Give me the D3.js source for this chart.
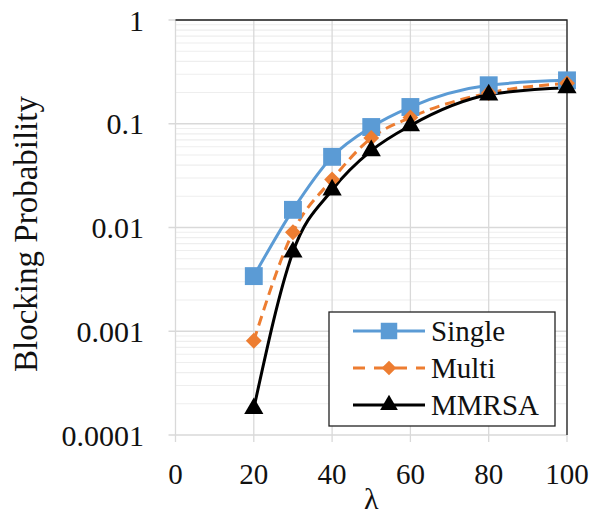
<!DOCTYPE html>
<html>
<head>
<meta charset="utf-8">
<script src="https://cdn.jsdelivr.net/npm/d3@7"></script>
<style>
  body { margin: 0; background: #fff; }
  text { font-family: "Liberation Serif", "Times New Roman", serif; fill: #111; }
</style>
</head>
<body>
<div id="chart"></div>
<script>
// chart data
var lambdas = [20, 30, 40, 50, 60, 80, 100];
var single = [0.0034, 0.0148, 0.048, 0.093, 0.145, 0.235, 0.262];
var multi = [0.00081, 0.0090, 0.029, 0.073, 0.115, 0.198, 0.245];
var mmrsa = [0.00018, 0.0058, 0.023, 0.055, 0.096, 0.19, 0.222];
var xTicks = [0, 20, 40, 60, 80, 100];
var yTicks = [0.0001, 0.001, 0.01, 0.1, 1];
var yTickLabels = ["0.0001", "0.001", "0.01", "0.1", "1"];
var seriesNames = ["Single", "Multi", "MMRSA"];

var W = 592, H = 517;
var pLeft = 175.5, pRight = 567, pTop = 20, pBottom = 435;

var svg = d3.select('#chart').append('svg')
  .attr('width', W).attr('height', H);

var x = d3.scaleLinear().domain([0, 100]).range([pLeft, pRight]);
var y = d3.scaleLog().domain([0.0001, 1]).range([pBottom, pTop]);

// minor horizontal grid
var minor = [];
for (var e = -4; e < 0; e++) {
  for (var m = 2; m <= 9; m++) minor.push(m * Math.pow(10, e));
}
svg.selectAll('.minor').data(minor).enter().append('line')
  .attr('x1', pLeft).attr('x2', pRight)
  .attr('y1', d => y(d)).attr('y2', d => y(d))
  .attr('stroke', '#eeeeee').attr('stroke-width', 1.2);

// major horizontal grid
svg.selectAll('.major').data(yTicks).enter().append('line')
  .attr('x1', pLeft - 7).attr('x2', pRight)
  .attr('y1', d => y(d)).attr('y2', d => y(d))
  .attr('stroke', '#d9d9d9').attr('stroke-width', 1.3);

// vertical grid
svg.selectAll('.vgrid').data(xTicks).enter().append('line')
  .attr('x1', d => x(d)).attr('x2', d => x(d))
  .attr('y1', pTop).attr('y2', pBottom + 7)
  .attr('stroke', '#d9d9d9').attr('stroke-width', 1.3);

// frame: top and right dark
svg.append('path')
  .attr('d', 'M' + pLeft + ',' + pTop + 'H' + pRight + 'V' + pBottom)
  .attr('fill', 'none').attr('stroke', '#222').attr('stroke-width', 1.3);

// tick labels
svg.selectAll('.ylab').data(yTicks).enter().append('text')
  .attr('x', 144).attr('y', d => y(d))
  .attr('dy', '0.35em')
  .attr('text-anchor', 'end')
  .attr('font-size', 30)
  .text((d, i) => yTickLabels[i]);

svg.selectAll('.xlab').data(xTicks).enter().append('text')
  .attr('x', d => x(d)).attr('y', 484)
  .attr('text-anchor', 'middle')
  .attr('font-size', 29)
  .text(d => d);

svg.append('text')
  .attr('x', x(50)).attr('y', 509)
  .attr('text-anchor', 'middle')
  .attr('font-size', 30)
  .text('λ');

svg.append('text')
  .attr('transform', 'translate(37,234) rotate(-90)')
  .attr('text-anchor', 'middle')
  .attr('font-size', 33)
  .text('Blocking Probability');

var series = [
  { name: seriesNames[0], values: single, color: '#5b9bd5', dash: null, sym: d3.symbolSquare, size: 320 },
  { name: seriesNames[1], values: multi, color: '#ed7d31', dash: '10,6', sym: d3.symbolDiamond2 || d3.symbolDiamond, size: 160 },
  { name: seriesNames[2], values: mmrsa, color: '#000000', dash: null, sym: d3.symbolTriangle, size: 160 }
];

var line = d3.line()
  .x((d, i) => x(lambdas[i]))
  .y(d => y(d))
  .curve(d3.curveMonotoneX);

series.forEach(function(s) {
  svg.append('path')
    .datum(s.values)
    .attr('d', line)
    .attr('fill', 'none')
    .attr('stroke', s.color)
    .attr('stroke-width', 3)
    .attr('stroke-dasharray', s.dash);
});

series.forEach(function(s) {
  svg.selectAll(null).data(s.values).enter().append('path')
    .attr('d', d3.symbol().type(s.sym).size(s.size))
    .attr('transform', (d, i) => 'translate(' + x(lambdas[i]) + ',' + y(d) + ')')
    .attr('fill', s.color);
});

// legend
var lg = svg.append('g');
lg.append('rect')
  .attr('x', 329).attr('y', 312).attr('width', 226).attr('height', 114)
  .attr('fill', '#fff').attr('stroke', '#222').attr('stroke-width', 1.3);

series.forEach(function(s, i) {
  var ly = 331 + i * 37;
  lg.append('line')
    .attr('x1', 353).attr('x2', 425).attr('y1', ly).attr('y2', ly)
    .attr('stroke', s.color).attr('stroke-width', 3)
    .attr('stroke-dasharray', s.dash ? '12,9' : null);
  lg.append('path')
    .attr('d', d3.symbol().type(s.sym).size(s.size * 0.85)())
    .attr('transform', 'translate(389,' + ly + ')')
    .attr('fill', s.color);
  lg.append('text')
    .attr('x', 431).attr('y', ly).attr('dy', '0.35em')
    .attr('font-size', 29)
    .text(s.name);
});
</script>
</body>
</html>
